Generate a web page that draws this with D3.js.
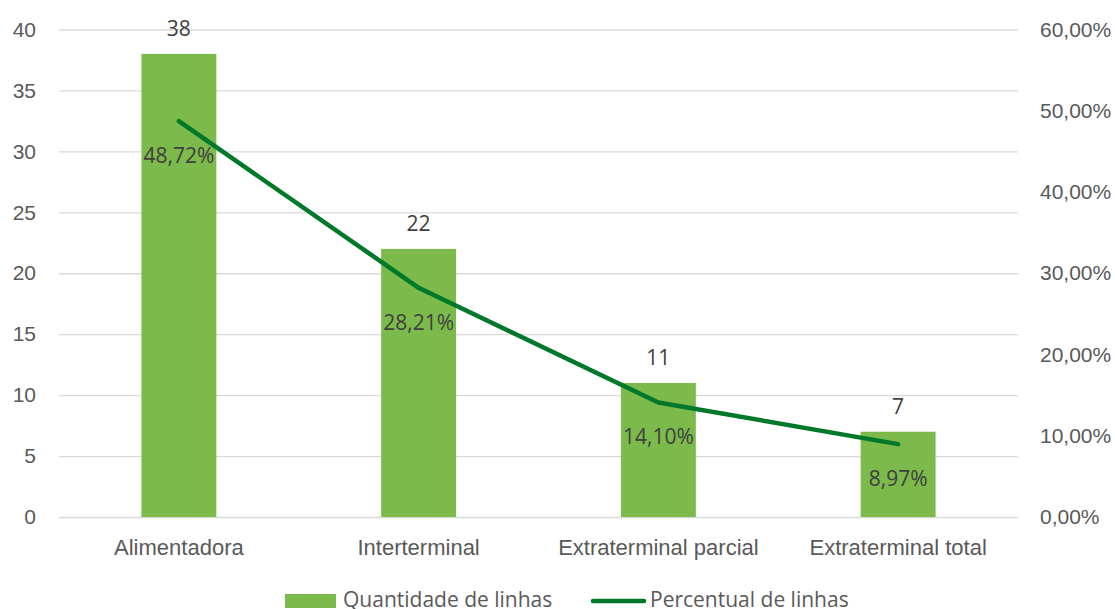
<!DOCTYPE html>
<html>
<head>
<meta charset="utf-8">
<script src="https://cdn.jsdelivr.net/npm/d3@7"></script>
<style>
  body { margin: 0; background: #fff; }
  svg { font-family: "Open Sans", "Noto Sans", sans-serif; }
</style>
</head>
<body>
<div id="chart"></div>
<script>
const categories = ["Alimentadora", "Interterminal", "Extraterminal parcial", "Extraterminal total"]
const quantidade = [38, 22, 11, 7]
const percentual = [48.72, 28.21, 14.10, 8.97]
const leftTicks = [0, 5, 10, 15, 20, 25, 30, 35, 40]
const rightTicks = [0, 10, 20, 30, 40, 50, 60]

const W = 1115, H = 609
const margin = { top: 29.5, right: 97, bottom: 92, left: 59 }
const width = W - margin.left - margin.right
const height = H - margin.top - margin.bottom

const barColor = "#7CBA4B"
const lineColor = "#00782A"
const axisText = "#595959"
const labelText = "#404040"

const svg = d3.select("#chart").append("svg")
  .attr("width", W).attr("height", H)

const g = svg.append("g")
  .attr("transform", `translate(${margin.left},${margin.top})`)

const x = d3.scaleBand().domain(categories).range([0, width])
const yL = d3.scaleLinear().domain([0, 40]).range([height, 0])
const yR = d3.scaleLinear().domain([0, 60]).range([height, 0])

const fmtPct = v => v.toFixed(2).replace(".", ",") + "%"

// Grid lines
g.append("g")
  .call(d3.axisLeft(yL).tickValues(leftTicks).tickSize(-width).tickFormat(""))
  .call(a => a.select(".domain").remove())
  .selectAll("line").attr("stroke", "#D9D9D9").attr("stroke-width", 1.3)

// Left axis
g.append("g")
  .call(d3.axisLeft(yL).tickValues(leftTicks).tickSize(0).tickPadding(23))
  .call(a => a.select(".domain").remove())
  .selectAll("text").attr("fill", axisText).attr("font-size", 21)

// Right axis
g.append("g")
  .attr("transform", `translate(${width},0)`)
  .call(d3.axisRight(yR).tickValues(rightTicks).tickSize(0).tickPadding(22)
    .tickFormat(fmtPct))
  .call(a => a.select(".domain").remove())
  .selectAll("text").attr("fill", axisText).attr("font-size", 21)

// X axis
g.append("g")
  .attr("transform", `translate(0,${height})`)
  .call(d3.axisBottom(x).tickSize(0).tickPadding(22))
  .call(a => a.select(".domain").remove())
  .selectAll("text").attr("fill", axisText).attr("font-size", 22)

// Bars
const barW = x.bandwidth() * 0.3125
g.selectAll(".bar").data(quantidade).enter().append("rect")
  .attr("x", (d, i) => x(categories[i]) + x.bandwidth() / 2 - barW / 2)
  .attr("y", d => yL(d))
  .attr("width", barW)
  .attr("height", d => height - yL(d))
  .attr("fill", barColor)

// Bar value labels
g.selectAll(".vlabel").data(quantidade).enter().append("text")
  .attr("x", (d, i) => x(categories[i]) + x.bandwidth() / 2)
  .attr("y", d => yL(d) - 18)
  .attr("text-anchor", "middle")
  .attr("font-size", 21)
  .attr("fill", labelText)
  .text(d => d)

// Line
const line = d3.line()
  .x((d, i) => x(categories[i]) + x.bandwidth() / 2)
  .y(d => yR(d))

g.append("path")
  .datum(percentual)
  .attr("fill", "none")
  .attr("stroke", lineColor)
  .attr("stroke-width", 4.5)
  .attr("stroke-linecap", "round")
  .attr("stroke-linejoin", "round")
  .attr("d", line)

// Percent labels
g.selectAll(".plabel").data(percentual).enter().append("text")
  .attr("x", (d, i) => x(categories[i]) + x.bandwidth() / 2)
  .attr("y", d => yR(d) + 42)
  .attr("text-anchor", "middle")
  .attr("font-size", 21)
  .attr("fill", labelText)
  .text(fmtPct)

// Legend
const leg = svg.append("g").attr("transform", "translate(0,607)")
leg.append("rect").attr("x", 285).attr("y", -13).attr("width", 51).attr("height", 14).attr("fill", barColor)
leg.append("text").attr("x", 343).attr("y", 0).attr("font-size", 21).attr("fill", axisText)
  .text("Quantidade de linhas")
leg.append("line").attr("x1", 593).attr("x2", 644).attr("y1", -6).attr("y2", -6)
  .attr("stroke", lineColor).attr("stroke-width", 4.5).attr("stroke-linecap", "round")
leg.append("text").attr("x", 650).attr("y", 0).attr("font-size", 21).attr("fill", axisText)
  .text("Percentual de linhas")
</script>
</body>
</html>
